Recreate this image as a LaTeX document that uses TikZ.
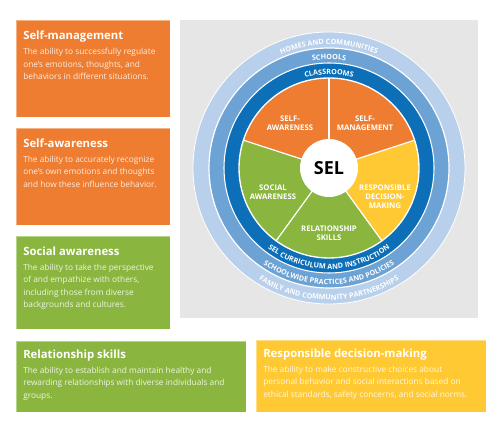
\documentclass[tikz,border=0pt]{standalone}
\usepackage{fontspec}
\setmainfont{Open Sans}
\usetikzlibrary{decorations.text,calc}
\definecolor{selorange}{HTML}{EE7D31}
\definecolor{selgreen}{HTML}{8AB640}
\definecolor{selyellow}{HTML}{FFC933}
\definecolor{ringdark}{HTML}{0C6FB7}
\definecolor{ringmid}{HTML}{6DA2D4}
\definecolor{ringlight}{HTML}{B8D0EB}
\definecolor{panelgray}{HTML}{E6E6E6}
\newcommand\ringfont{\fontsize{5.4}{5.4}\selectfont\bfseries}
\begin{document}
\begin{tikzpicture}[x=0.75pt,y=0.75pt,
  cardbox/.style={rectangle, anchor=north west, inner sep=0pt, outer sep=0pt, draw=white, draw opacity=0.4, line width=0.5pt},
  cardtitle/.style={anchor=base west, inner sep=0pt, text=white, font=\fontsize{8.5}{10}\selectfont\bfseries},
  carddesc/.style={anchor=north west, inner sep=0pt, align=left, text=white, text opacity=0.85, font=\fontsize{6.25}{9.3}\selectfont},
  slicelabel/.style={align=center, text=white, inner sep=0pt, font=\fontsize{5.8}{6.6}\selectfont\bfseries},
  ringtext/.style={decorate, decoration={text along path, text align=center, text color=white}}
]
\useasboundingbox (0,0) rectangle (500,434);
\fill[white] (0,0) rectangle (500,434);

% gray panel
\node[rectangle, anchor=north west, inner sep=0pt, fill=panelgray, minimum width=223.5pt, minimum height=223.5pt] (panel) at (180,414) {};

% cards
\node[cardbox, fill=selorange, minimum width=115.5pt, minimum height=72.75pt] (b1) at (16,414) {};
\node[cardbox, fill=selorange, minimum width=115.5pt, minimum height=72.75pt] (b2) at (16,306) {};
\node[cardbox, fill=selgreen, minimum width=115.5pt, minimum height=69.75pt] (b3) at (16,198) {};
\node[cardbox, fill=selgreen, minimum width=172.5pt, minimum height=53.25pt] (b4) at (16,93) {};
\node[cardbox, fill=selyellow, minimum width=172.5pt, minimum height=54pt] (b5) at (256,94) {};

\node[cardtitle] (t1) at ($(b1.north west)+(7,-20)$) {Self-management};
\node[carddesc] (d1) at ($(b1.north west)+(7,-28)$) {The ability to successfully regulate\\one’s emotions, thoughts, and\\behaviors in different situations.};
\node[cardtitle] (t2) at ($(b2.north west)+(7,-20)$) {Self-awareness};
\node[carddesc] (d2) at ($(b2.north west)+(7,-28)$) {The ability to accurately recognize\\one’s own emotions and thoughts\\and how these influence behavior.};
\node[cardtitle] (t3) at ($(b3.north west)+(7,-20)$) {Social awareness};
\node[carddesc] (d3) at ($(b3.north west)+(7,-28)$) {The ability to take the perspective\\of and empathize with others,\\including those from diverse\\backgrounds and cultures.};
\node[cardtitle] (t4) at ($(b4.north west)+(7,-18)$) {Relationship skills};
\node[carddesc] (d4) at ($(b4.north west)+(7,-26)$) {The ability to establish and maintain healthy and\\rewarding relationships with diverse individuals and\\groups.};
\node[cardtitle] (t5) at ($(b5.north west)+(7,-18)$) {Responsible decision-making};
\node[carddesc] (d5) at ($(b5.north west)+(7,-26)$) {The ability to make constructive choices about\\personal behavior and social interactions based on\\ethical standards, safety concerns, and social norms.};

% rings
\coordinate (C) at (329,266);
\fill[ringlight] (C) circle[radius=136];
\draw[white, line width=0.6pt] (C) circle[radius=136];
\fill[ringmid] (C) circle[radius=120];
\draw[white, line width=0.9pt] (C) circle[radius=120];
\fill[ringdark] (C) circle[radius=105];
\draw[white, line width=0.8pt] (C) circle[radius=105];

% slices
\foreach \a/\b/\c in {18/90/selorange, 90/162/selorange, 162/234/selgreen, 234/306/selgreen, 306/378/selyellow}{
  \fill[\c] (C) -- ($(C)+(\a:90)$) arc[start angle=\a, end angle=\b, radius=90] -- cycle;
}
\foreach \a in {18,90,162,234,306}{
  \draw[white, line width=0.9pt] (C) -- ($(C)+(\a:90)$);
}
\draw[white, line width=1pt] (C) circle[radius=90];
\node[circle, fill=white, minimum size=43.5pt, inner sep=0pt] (sel) at (C) {\fontsize{13.5}{14}\selectfont\bfseries SEL};

\node[slicelabel] (lsa) at ($(C)+(-39,45)$) {SELF-\\AWARENESS};
\node[slicelabel] (lsm) at ($(C)+(36,45)$) {SELF-\\MANAGEMENT};
\node[slicelabel] (lso) at ($(C)+(-56,-24)$) {SOCIAL\\AWARENESS};
\node[slicelabel] (lre) at ($(C)+(0,-65)$) {RELATIONSHIP\\SKILLS};
\node[slicelabel] (lrd) at ($(C)+(56,-29)$) {RESPONSIBLE\\DECISION-\\MAKING};

% ring texts, top
\path[ringtext, decoration={text={|\ringfont|HOMES AND COMMUNITIES}}] ($(C)+(160:123.5)$) arc[start angle=160, end angle=20, radius=123.5];
\path[ringtext, decoration={text={|\ringfont|SCHOOLS}}] ($(C)+(150:108.5)$) arc[start angle=150, end angle=30, radius=108.5];
\path[ringtext, decoration={text={|\ringfont|CLASSROOMS}}] ($(C)+(150:93.5)$) arc[start angle=150, end angle=30, radius=93.5];
% ring texts, bottom
\path[ringtext, decoration={text={|\ringfont|SEL CURRICULUM AND INSTRUCTION}}] ($(C)+(205:101)$) arc[start angle=205, end angle=335, radius=101];
\path[ringtext, decoration={text={|\ringfont|SCHOOLWIDE PRACTICES AND POLICIES}}] ($(C)+(205:116.5)$) arc[start angle=205, end angle=335, radius=116.5];
\path[ringtext, decoration={text={|\ringfont|FAMILY AND COMMUNITY PARTNERSHIPS}}] ($(C)+(210:132)$) arc[start angle=210, end angle=330, radius=132];
\end{tikzpicture}
\end{document}
